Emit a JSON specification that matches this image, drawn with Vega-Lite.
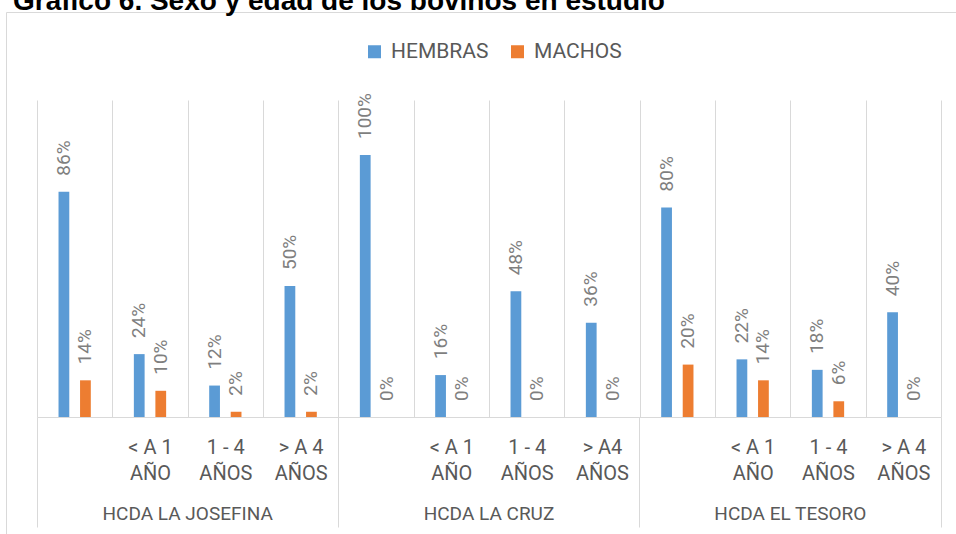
{
  "$schema": "https://vega.github.io/schema/vega-lite/v6.json",
  "width": 950,
  "height": 522,
  "autosize": {"type": "none"},
  "padding": {"left": 6, "top": 12, "right": 0, "bottom": 0},
  "background": "#ffffff",
  "view": {"stroke": "#d9d9d9", "strokeWidth": 1, "strokeDash": [950, 1472, 522, 0]},
  "title": {
    "text": "Gráfico 6. Sexo y edad de los bovinos en estudio",
    "anchor": "start",
    "frame": "group",
    "orient": "top",
    "font": "Liberation Sans",
    "fontSize": 28,
    "fontWeight": "bold",
    "color": "#000000",
    "baseline": "alphabetic",
    "offset": 0,
    "dx": 7,
    "dy": 26
  },
  "data": {
    "values": [
      {"categoria": "HCDA LA JOSEFINA||", "sexo": "HEMBRAS", "porcentaje": 0.86},
      {"categoria": "HCDA LA JOSEFINA||", "sexo": "MACHOS", "porcentaje": 0.14},
      {"categoria": "HCDA LA JOSEFINA|< A 1|AÑO", "sexo": "HEMBRAS", "porcentaje": 0.24},
      {"categoria": "HCDA LA JOSEFINA|< A 1|AÑO", "sexo": "MACHOS", "porcentaje": 0.10},
      {"categoria": "HCDA LA JOSEFINA|1 - 4|AÑOS", "sexo": "HEMBRAS", "porcentaje": 0.12},
      {"categoria": "HCDA LA JOSEFINA|1 - 4|AÑOS", "sexo": "MACHOS", "porcentaje": 0.02},
      {"categoria": "HCDA LA JOSEFINA|> A 4|AÑOS", "sexo": "HEMBRAS", "porcentaje": 0.50},
      {"categoria": "HCDA LA JOSEFINA|> A 4|AÑOS", "sexo": "MACHOS", "porcentaje": 0.02},
      {"categoria": "HCDA LA CRUZ||", "sexo": "HEMBRAS", "porcentaje": 1.00},
      {"categoria": "HCDA LA CRUZ||", "sexo": "MACHOS", "porcentaje": 0.0},
      {"categoria": "HCDA LA CRUZ|< A 1|AÑO", "sexo": "HEMBRAS", "porcentaje": 0.16},
      {"categoria": "HCDA LA CRUZ|< A 1|AÑO", "sexo": "MACHOS", "porcentaje": 0.0},
      {"categoria": "HCDA LA CRUZ|1 - 4|AÑOS", "sexo": "HEMBRAS", "porcentaje": 0.48},
      {"categoria": "HCDA LA CRUZ|1 - 4|AÑOS", "sexo": "MACHOS", "porcentaje": 0.0},
      {"categoria": "HCDA LA CRUZ|> A4|AÑOS", "sexo": "HEMBRAS", "porcentaje": 0.36},
      {"categoria": "HCDA LA CRUZ|> A4|AÑOS", "sexo": "MACHOS", "porcentaje": 0.0},
      {"categoria": "HCDA EL TESORO||", "sexo": "HEMBRAS", "porcentaje": 0.80},
      {"categoria": "HCDA EL TESORO||", "sexo": "MACHOS", "porcentaje": 0.20},
      {"categoria": "HCDA EL TESORO|< A 1|AÑO", "sexo": "HEMBRAS", "porcentaje": 0.22},
      {"categoria": "HCDA EL TESORO|< A 1|AÑO", "sexo": "MACHOS", "porcentaje": 0.14},
      {"categoria": "HCDA EL TESORO|1 - 4|AÑOS", "sexo": "HEMBRAS", "porcentaje": 0.18},
      {"categoria": "HCDA EL TESORO|1 - 4|AÑOS", "sexo": "MACHOS", "porcentaje": 0.06},
      {"categoria": "HCDA EL TESORO|> A 4|AÑOS", "sexo": "HEMBRAS", "porcentaje": 0.40},
      {"categoria": "HCDA EL TESORO|> A 4|AÑOS", "sexo": "MACHOS", "porcentaje": 0.0}
    ]
  },
  "encoding": {
    "xOffset": {"field": "sexo", "type": "nominal", "scale": {"paddingInner": 0.5, "paddingOuter": 1.133}},
    "y": {"field": "porcentaje", "type": "quantitative", "scale": {"domain": [-0.1107, 1.0992], "range": [434, 117], "nice": false, "zero": false}, "axis": null}
  },
  "layer": [
    {
      "mark": {"type": "bar"},
      "encoding": {
        "x": {
          "field": "categoria", "type": "nominal", "sort": null,
          "scale": {"range": [31, 935], "paddingInner": 0, "paddingOuter": 0},
          "axis": {
            "orient": "bottom", "offset": -117, "title": null,
            "domain": true, "domainColor": "#d9d9d9", "domainWidth": 1,
            "grid": true, "gridColor": "#d9d9d9", "gridWidth": 1, "tickBand": "extent",
            "ticks": false,
            "labelExpr": "slice(split(datum.value, '|'), 1)",
            "labelAngle": 0, "labelAlign": "center", "labelBaseline": "alphabetic",
            "labelFont": "Roboto", "labelFontSize": 20, "labelColor": "#595959",
            "labelPadding": 36, "labelLineHeight": 26, "labelOverlap": false
          }
        },
        "y2": {"datum": 0},
        "color": {
          "field": "sexo", "type": "nominal",
          "scale": {"domain": ["HEMBRAS", "MACHOS"], "range": ["#5b9bd5", "#ed7d31"]},
          "legend": {
            "orient": "none", "legendX": 358, "legendY": 29, "direction": "horizontal",
            "title": null, "symbolType": "square", "symbolSize": 169, "symbolStrokeWidth": 0,
            "labelFont": "Roboto", "labelFontSize": 21, "labelColor": "#595959",
            "columnPadding": 18, "labelOffset": 6, "padding": 0
          }
        }
      }
    },
    {
      "transform": [{"filter": "datum.sexo === 'HEMBRAS'"}],
      "mark": {"type": "text", "angle": 270, "align": "left", "baseline": "middle", "dx": 16, "font": "Roboto", "fontSize": 19, "color": "#7f7f7f"},
      "encoding": {
        "x": {
          "field": "categoria", "type": "nominal", "sort": null,
          "scale": {"range": [31, 935], "paddingInner": 0, "paddingOuter": 0},
          "axis": {
            "orient": "bottom", "offset": -117, "title": null,
            "domain": false, "grid": false,
            "values": ["HCDA LA JOSEFINA||", "HCDA LA CRUZ||", "HCDA EL TESORO||"],
            "bandPosition": 0, "ticks": true, "tickSize": 110, "tickColor": "#d9d9d9", "tickWidth": 1,
            "labelExpr": "split(datum.value, '|')[0]",
            "labelAngle": 0, "labelAlign": "center", "labelBaseline": "alphabetic",
            "labelFont": "Roboto", "labelFontSize": 19, "labelColor": "#595959",
            "labelPadding": -7.5, "labelOffset": 113, "labelOverlap": false
          }
        },
        "text": {"field": "porcentaje", "type": "quantitative", "format": ".0%"}
      }
    },
    {
      "transform": [{"filter": "datum.sexo === 'MACHOS'"}],
      "mark": {"type": "text", "angle": 270, "align": "left", "baseline": "middle", "dx": 16, "font": "Roboto", "fontSize": 19, "color": "#7f7f7f"},
      "encoding": {
        "x": {
          "field": "categoria", "type": "nominal", "sort": null,
          "scale": {"range": [31, 935], "paddingInner": 0, "paddingOuter": 0},
          "axis": {
            "orient": "bottom", "offset": -117, "title": null,
            "domain": false, "grid": false, "labels": false,
            "values": ["HCDA EL TESORO|> A 4|AÑOS"],
            "bandPosition": 1, "ticks": true, "tickSize": 110, "tickColor": "#d9d9d9", "tickWidth": 1
          }
        },
        "text": {"field": "porcentaje", "type": "quantitative", "format": ".0%"}
      }
    }
  ],
  "resolve": {"axis": {"x": "independent"}}
}
